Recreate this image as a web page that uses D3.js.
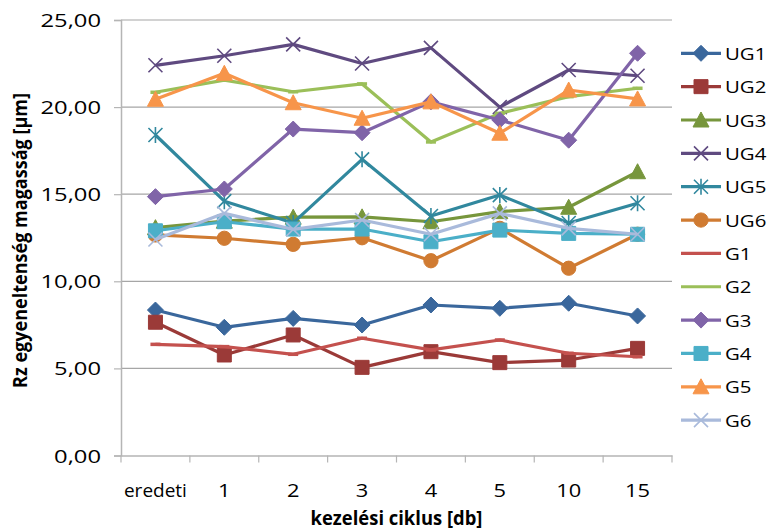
<!DOCTYPE html>
<html>
<head>
<meta charset="utf-8">
<script src="https://cdn.jsdelivr.net/npm/d3@7"></script>
<style>
  html, body { margin: 0; padding: 0; background: #fff; }
  svg { display: block; font-family: "Open Sans", sans-serif; }
</style>
</head>
<body>
<svg id="chart" width="767" height="531"></svg>
<script>
// Treatment cycles on the x axis
const categories = ["eredeti", "1", "2", "3", "4", "5", "10", "15"];

// Rz roughness per sample [µm]
const UG1 = [8.35, 7.36, 7.87, 7.49, 8.64, 8.45, 8.74, 8.01];
const UG2 = [7.65, 5.77, 6.92, 5.06, 5.96, 5.33, 5.48, 6.15];
const UG3 = [13.08, 13.45, 13.68, 13.70, 13.42, 14.00, 14.25, 16.29];
const UG4 = [22.40, 22.95, 23.60, 22.50, 23.40, 20.00, 22.13, 21.80];
const UG5 = [18.40, 14.60, 13.35, 17.00, 13.75, 14.95, 13.35, 14.48];
const UG6 = [12.66, 12.47, 12.12, 12.50, 11.18, 13.04, 10.75, 12.70];
const G1 = [6.38, 6.25, 5.81, 6.73, 6.06, 6.63, 5.87, 5.67];
const G2 = [20.85, 21.55, 20.88, 21.33, 18.00, 19.64, 20.60, 21.08];
const G3 = [14.86, 15.30, 18.74, 18.53, 20.30, 19.26, 18.10, 23.09];
const G4 = [12.90, 13.42, 13.00, 13.00, 12.27, 12.94, 12.75, 12.70];
const G5 = [20.45, 21.94, 20.25, 19.36, 20.30, 18.50, 20.98, 20.47];
const G6 = [12.40, 13.90, 12.98, 13.52, 12.70, 13.90, 13.04, 12.70];

const seriesNames = ["UG1", "UG2", "UG3", "UG4", "UG5", "UG6", "G1", "G2", "G3", "G4", "G5", "G6"];
const seriesValues = [UG1, UG2, UG3, UG4, UG5, UG6, G1, G2, G3, G4, G5, G6];
const seriesColors = ["#3a679c", "#9b3a38", "#77963c", "#5f4a80", "#31889e", "#d07b32",
                      "#c4514e", "#9bbf59", "#8064a8", "#4bafc8", "#f7954a", "#a9badb"];
const seriesMarkers = ["diamond", "square", "triangle", "x", "star", "circle",
                       "dash", "dash", "diamond", "square", "triangle", "x"];

const yTicks = [0, 5, 10, 15, 20, 25];
const yTitle = "Rz egyeneltenség magasság [µm]";
const xTitle = "kezelési ciklus [db]";

const svg = d3.select("#chart");
const plot = { left: 121, right: 672, top: 20, bottom: 455.5 };

const xBand = d3.scaleBand().domain(categories).range([plot.left, plot.right]);
const x = d3.scalePoint().domain(categories).range([plot.left, plot.right]).padding(0.5);
const y = d3.scaleLinear().domain([0, 25]).range([plot.bottom, plot.top]);

const fmt = v => d3.format(".2f")(v).replace(".", ",");

// text drawn with a slight horizontal widening
function label(g, px, py, txt, opt) {
  const sx = opt.sx || 1;
  return g.append("text")
    .attr("transform", `translate(${px},${py}) scale(${sx},1)`)
    .attr("text-anchor", opt.anchor || "start")
    .attr("font-size", opt.size)
    .attr("font-weight", opt.weight || "normal")
    .attr("fill", "#000")
    .text(txt);
}

// gridlines
svg.append("g")
  .selectAll("line")
  .data(yTicks.filter(d => d > 0))
  .join("line")
  .attr("x1", plot.left).attr("x2", plot.right)
  .attr("y1", d => y(d)).attr("y2", d => y(d))
  .attr("stroke", "#a6a6a6").attr("stroke-width", 1.2);

// y axis
const yAxis = svg.append("g").attr("transform", `translate(${plot.left},0)`)
  .call(d3.axisLeft(y).tickValues(yTicks).tickSize(7).tickFormat(""));
yAxis.select(".domain").attr("stroke", "#b5b5b5").attr("stroke-width", 1.5);
yAxis.selectAll(".tick line").attr("stroke", "#b5b5b5").attr("stroke-width", 1.2);

const ylab = svg.append("g");
yTicks.forEach(v => label(ylab, 101, y(v) + 7, fmt(v), { anchor: "end", size: 19, sx: 1.25 }));

// x axis
const xAxis = svg.append("g").attr("transform", `translate(0,${plot.bottom})`)
  .call(d3.axisBottom(xBand).tickSize(0).tickFormat(""));
xAxis.select(".domain").attr("stroke", "#b5b5b5").attr("stroke-width", 1.5);
const edges = categories.map(c => xBand(c)).concat([xBand.range()[1]]);
svg.append("g").selectAll("line").data(edges).join("line")
  .attr("x1", d => d).attr("x2", d => d)
  .attr("y1", plot.bottom).attr("y2", plot.bottom + 7)
  .attr("stroke", "#b5b5b5").attr("stroke-width", 1.2);

const xlab = svg.append("g");
categories.forEach(c => label(xlab, x(c), 497, c, { anchor: "middle", size: 19, sx: isNaN(+c) ? 1 : 1.15 }));

// axis titles
label(svg.append("g"), (plot.left + plot.right) / 2, 525, xTitle, { anchor: "middle", size: 19, weight: "bold", sx: 0.97 });
const yt = svg.append("g").attr("transform", `translate(27,240.5) rotate(-90)`);
label(yt, 0, 0, yTitle, { anchor: "middle", size: 19, weight: "bold", sx: 0.95 });

// marker shapes
function markerPath(type) {
  const s = 7;
  switch (type) {
    case "diamond": return `M0,${-s - 1}L${s + 1},0L0,${s + 1}L${-s - 1},0Z`;
    case "square": return `M${-s},${-s}H${s}V${s}H${-s}Z`;
    case "triangle": return `M0,${-s - 1}L${s + 1},${s}L${-s - 1},${s}Z`;
    case "circle": return d3.symbol(d3.symbolCircle, 160)();
    case "x": return `M${-s},${-s}L${s},${s}M${s},${-s}L${-s},${s}`;
    case "star": return `M${-s},${-s}L${s},${s}M${s},${-s}L${-s},${s}M0,${-s - 1}V${s + 1}`;
    case "dash": return `M-5,0H5`;
  }
}
function drawMarker(g, type, color, cx, cy) {
  const open = type === "x" || type === "star" || type === "dash";
  g.append("path")
    .attr("transform", `translate(${cx},${cy})`)
    .attr("d", markerPath(type))
    .attr("fill", open ? "none" : color)
    .attr("stroke", color)
    .attr("stroke-width", type === "dash" ? 3.5 : (open ? 1.6 : 1));
}

// series
const line = d3.line().x((d, i) => x(categories[i])).y(d => y(d));
const lines = svg.append("g");
seriesNames.forEach((name, si) => {
  const g = lines.append("g");
  g.append("path")
    .attr("d", line(seriesValues[si]))
    .attr("fill", "none")
    .attr("stroke", seriesColors[si])
    .attr("stroke-width", 3.2)
    .attr("stroke-linejoin", "round");
  seriesValues[si].forEach((v, i) =>
    drawMarker(g, seriesMarkers[si], seriesColors[si], x(categories[i]), y(v)));
});

// legend
const legend = svg.append("g");
seriesNames.forEach((name, si) => {
  const ly = 53.3 + si * 33.35;
  legend.append("line")
    .attr("x1", 681).attr("x2", 721).attr("y1", ly).attr("y2", ly)
    .attr("stroke", seriesColors[si]).attr("stroke-width", 3.2);
  if (seriesMarkers[si] !== "dash") drawMarker(legend, seriesMarkers[si], seriesColors[si], 701, ly);
  label(legend, 725, ly + 6.5, name, { size: 17, sx: 1.2 });
});
</script>
</body>
</html>
